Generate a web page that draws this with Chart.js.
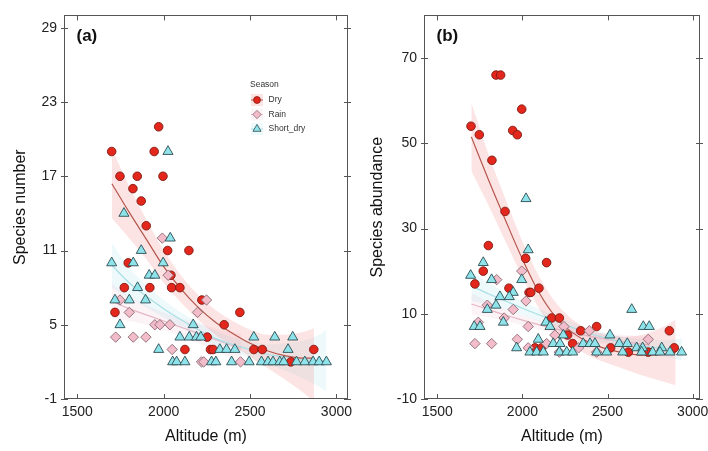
<!DOCTYPE html>
<html><head><meta charset="utf-8">
<script src="https://cdn.jsdelivr.net/npm/chart.js@4.4.1/dist/chart.umd.min.js"></script>
<style>
html,body{margin:0;padding:0;background:#fff;width:708px;height:451px;overflow:hidden;position:relative}
.wrap{position:absolute;top:0;height:451px;width:364px}
#wa{left:0;z-index:2}#wb{left:354px;z-index:1}
canvas{display:block}
</style></head><body>
<div class="wrap" id="wb"><canvas id="cb" width="364" height="451"></canvas></div>
<div class="wrap" id="wa"><canvas id="ca" width="364" height="451"></canvas></div>
<script>
// ---------- shared ----------
const xTicks = [1500, 2000, 2500, 3000];
const seasons = ['Dry', 'Rain', 'Short_dry'];

// ---------- panel (a): species number ----------
const yTicksA = [-1, 5, 11, 17, 23, 29];
const dryA = [[1699,19],[1971,21],[1945,19],[1747,17],[1847,17],[1996,17],[1822,16],[1870,15],[1899,13],[2023,11],[2146,11],[1795,10],[2042,9],[1772,8],[1920,8],[2046,8],[2094,8],[2221,7],[1718,6],[2441,6],[2350,5],[2252,4],[2123,3],[2271,3],[2286,3],[2522,3],[2571,3],[2869,3],[2736,2]];
const rainA = [[1992,12],[2026,9],[1747,7],[2248,7],[1801,6],[2196,6],[1949,5],[1978,5],[2036,5],[1722,4],[1824,4],[1897,4],[2049,3],[2219,2],[2232,2],[2445,2]];
const shortA = [[2025,19],[1770,14],[2038,12],[1870,11],[1699,10],[1824,10],[1997,10],[1916,9],[1949,9],[1849,8],[1718,7],[1801,7],[1895,7],[1747,5],[2171,5],[2094,4],[2148,4],[2190,4],[2215,4],[2522,4],[2643,4],[2747,4],[1971,3],[2325,3],[2364,3],[2412,3],[2720,3],[2052,2],[2075,2],[2123,2],[2277,2],[2302,2],[2393,2],[2495,2],[2566,2],[2604,2],[2633,2],[2672,2],[2695,2],[2769,2],[2817,2],[2865,2],[2900,2],[2942,2]];
const dryFitAltA = [1700,1800,1900,2000,2100,2200,2300,2400,2500,2600,2700,2800,2870];
const dryFitA    = [16.4,14.1,11.9,9.7,7.9,6.4,5.2,4.3,3.5,2.9,2.5,2.3,2.3];
const dryLoA     = [13.6,12.0,10.3,8.4,6.8,5.4,4.2,3.3,2.4,1.5,0.6,-0.4,-1.2];
const dryHiA     = [19.2,16.2,13.5,11.0,9.0,7.4,6.2,5.3,4.6,4.2,4.2,4.4,4.7];
const shortFitAltA = [1700,1800,1900,2000,2100,2200,2300,2400,2500,2600,2700,2800,2900,2942];
const shortFitA    = [9.8,8.4,7.3,6.3,5.4,4.6,3.9,3.4,3.0,2.6,2.4,2.2,2.1,2.1];
const shortLoA     = [8.0,7.2,6.4,5.6,4.8,4.0,3.3,2.8,2.3,1.8,1.3,0.7,0.0,-0.4];
const shortHiA     = [11.6,9.6,8.2,7.0,6.0,5.2,4.5,4.0,3.7,3.4,3.5,3.7,4.2,4.6];
const rainFitAltA = [1700,1800,1900,2000,2100,2200,2300,2400,2450];
const rainFitA    = [6.9,6.3,5.8,5.3,4.8,4.3,3.8,3.3,3.1];
const rainLoA     = [5.5,5.3,5.0,4.6,4.1,3.5,2.9,2.2,1.9];
const rainHiA     = [8.3,7.3,6.6,6.0,5.5,5.1,4.7,4.4,4.3];

// ---------- panel (b): species abundance ----------
const yTicksB = [-10, 10, 30, 50, 70];
const dryB = [[1698,54],[1747,52],[1845,66],[1872,66],[1996,58],[1943,53],[1970,52],[1821,46],[1898,34],[1800,26],[2019,23],[2142,22],[1770,20],[1721,17],[1921,16],[2097,16],[2039,15],[2049,15],[2172,9],[2217,9],[2265,5],[2295,3],[2342,6],[2436,7],[2074,2],[2113,2],[2518,2],[2622,1],[2739,1],[2863,6],[2892,2]];
const rainB = [[1996,20],[1849,18],[2021,13],[1794,12],[1946,11],[1741,8],[1893,9],[2034,7],[2244,7],[1721,3],[1819,3],[1970,4],[2142,3],[2034,2],[2191,5],[2393,6],[2739,4],[2217,1],[2436,1],[2330,2]];
const shortB = [[2021,37],[2034,25],[1770,22],[1696,19],[1819,18],[1996,18],[1946,15],[1868,14],[1923,14],[1845,12],[1794,11],[2642,11],[1717,7],[1751,7],[1888,8],[2138,8],[2162,7],[2710,7],[2745,7],[2240,5],[2514,5],[2093,4],[1966,2],[2181,3],[2221,3],[2357,3],[2397,3],[2426,3],[2569,3],[2616,3],[2671,2],[2706,2],[2818,2],[2044,1],[2084,1],[2123,1],[2217,1],[2260,1],[2295,1],[2436,1],[2495,1],[2589,1],[2700,1],[2765,1],[2808,1],[2867,1],[2935,1]];
const dryFitAltB = [1700,1800,1900,2000,2100,2200,2300,2400,2500,2600,2700,2800,2900];
const dryFitB    = [51.5,41.5,32.0,22.8,14.8,9.0,5.4,3.1,1.7,0.8,0.3,0.4,0.9];
const dryLoB     = [43.5,35.5,27.0,18.6,11.0,5.6,2.3,0.0,-1.6,-3.0,-4.4,-5.6,-6.8];
const dryHiB     = [59.5,47.5,37.0,27.0,18.6,12.4,8.5,6.2,5.0,4.6,5.0,6.4,8.6];
const shortFitAltB = [1700,1800,1900,2000,2100,2200,2300,2400,2500,2600,2700,2800,2900,2940];
const shortFitB    = [16.5,14.7,13.0,11.3,9.7,8.2,6.7,5.3,4.2,3.2,2.5,2.0,1.7,1.6];
const shortLoB     = [13.0,12.2,11.0,9.7,8.3,6.9,5.5,4.2,3.0,1.9,1.0,0.2,-0.6,-1.0];
const shortHiB     = [20.0,17.2,15.0,12.9,11.1,9.5,7.9,6.4,5.4,4.5,4.0,3.8,4.0,4.2];
const rainFitAltB = [1700,1800,1900,2000,2100,2200,2300,2400,2500,2600,2700,2750];
const rainFitB    = [12.3,11.0,9.7,8.5,7.4,6.4,5.5,4.7,4.0,3.4,2.9,2.7];
const rainLoB     = [9.8,9.2,8.3,7.3,6.3,5.3,4.4,3.5,2.6,1.8,1.0,0.6];
const rainHiB     = [14.8,12.8,11.1,9.7,8.5,7.5,6.6,5.9,5.4,5.0,4.8,4.8];

// ---------- styles ----------
const FONT = "'Liberation Sans', Arial, sans-serif";
const C = {
  dry:   {fill:'#e3271d', border:'#7e1a12', line:'#b5564c', band:'rgba(242,120,120,0.20)', style:'circle', r:4.3},
  rain:  {fill:'#f2bccb', border:'#8a6a72', line:'#e6b6c4', band:'rgba(235,160,185,0.13)', style:'rectRot', r:5.2},
  short: {fill:'#8fe3ea', border:'#2d4c51', line:'#a9dfe6', band:'rgba(140,215,228,0.15)', style:'triangle', r:5.8}
};

const toPts = arr => arr.map(p => ({x:p[0], y:p[1]}));
const zip = (xs, ys) => xs.map((x,i) => ({x, y:ys[i]}));

function bandSets(xs, lo, hi, color, idxLo){
  return [
    {data:zip(xs,lo), showLine:true, pointRadius:0, borderWidth:0, borderColor:'rgba(0,0,0,0)', fill:false, order:30, cubicInterpolationMode:'monotone'},
    {data:zip(xs,hi), showLine:true, pointRadius:0, borderWidth:0, borderColor:'rgba(0,0,0,0)', backgroundColor:color, fill:idxLo, order:30, cubicInterpolationMode:'monotone'}
  ];
}
function lineSet(xs, ys, color){
  return {data:zip(xs,ys), showLine:true, pointRadius:0, borderWidth:1.2, borderColor:color, fill:false, order:20, cubicInterpolationMode:'monotone'};
}
function pointSet(arr, s, order){
  return {data:toPts(arr), showLine:false, pointStyle:s.style, pointRadius:s.r, pointBackgroundColor:s.fill, pointBorderColor:s.border, pointBorderWidth:0.9, order};
}

const framePlugin = {
  id:'frame',
  afterDraw(chart, args, o){
    const ctx = chart.ctx;
    const {left,right,top,bottom} = chart.chartArea;
    const xs = chart.scales.x, ys = chart.scales.y;
    ctx.save();
    ctx.strokeStyle = '#555'; ctx.lineWidth = 1;
    ctx.strokeRect(Math.round(left)+0.5, Math.round(top)+0.5, Math.round(right-left)-1, Math.round(bottom-top)-1);
    ctx.beginPath();
    xs.ticks.forEach(t => {
      const px = Math.round(xs.getPixelForValue(t.value))+0.5;
      ctx.moveTo(px, bottom); ctx.lineTo(px, bottom-5);
      ctx.moveTo(px, top); ctx.lineTo(px, top+5);
    });
    ys.ticks.forEach(t => {
      const py = Math.round(ys.getPixelForValue(t.value))+0.5;
      ctx.moveTo(left-3, py); ctx.lineTo(left+4, py);
      ctx.moveTo(right-4, py); ctx.lineTo(right+3, py);
    });
    ctx.stroke();
    // panel label
    ctx.fillStyle = '#111';
    ctx.font = 'bold 17px ' + FONT;
    ctx.textBaseline = 'middle'; ctx.textAlign = 'left';
    ctx.fillText(o.label, left + 12.5, top + 21);
    // legend
    if (o.legend){
      const lx = o.legend.x, ly = o.legend.y;
      ctx.font = '8.5px ' + FONT;
      ctx.fillStyle = '#333';
      ctx.fillText('Season', lx, ly);
      const keys = [C.dry, C.rain, C.short];
      keys.forEach((s, i) => {
        const cy = ly + 15 + i * 14.5, cx = lx + 7;
        ctx.fillStyle = s.band;
        ctx.fillRect(cx - 6, cy - 6, 12, 12);
        ctx.strokeStyle = s.line; ctx.lineWidth = 1;
        ctx.beginPath(); ctx.moveTo(cx - 6, cy); ctx.lineTo(cx + 6, cy); ctx.stroke();
        ctx.fillStyle = s.fill; ctx.strokeStyle = s.border; ctx.lineWidth = 0.8;
        Chart.helpers.drawPoint(ctx, {pointStyle:s.style, radius:s.r*0.8, rotation:0, borderWidth:0.8}, cx, cy);
        ctx.fillStyle = '#333';
        ctx.fillText(seasons[i], lx + 18.5, cy);
      });
    }
    ctx.restore();
  }
};

function makeChart(id, p){
  const datasets = [
    ...bandSets(p.dryFitAlt, p.dryLo, p.dryHi, C.dry.band, 0),
    ...bandSets(p.shortFitAlt, p.shortLo, p.shortHi, C.short.band, 2),
    ...bandSets(p.rainFitAlt, p.rainLo, p.rainHi, C.rain.band, 4),
    lineSet(p.dryFitAlt, p.dryFit, C.dry.line),
    lineSet(p.shortFitAlt, p.shortFit, C.short.line),
    lineSet(p.rainFitAlt, p.rainFit, C.rain.line),
    pointSet(p.dry, C.dry, 3),
    pointSet(p.rain, C.rain, 2),
    pointSet(p.short, C.short, 1)
  ];
  return new Chart(document.getElementById(id), {
    type:'scatter',
    data:{datasets},
    plugins:[framePlugin],
    options:{
      responsive:false, animation:false, devicePixelRatio:1,
      layout:{padding:{top:11, right:p.rightPad, left:0, bottom:0}},
      plugins:{legend:{display:false}, tooltip:{enabled:false},
               frame:{label:p.label, legend:p.legend}},
      scales:{
        x:{type:'linear', min:p.xMin, max:p.xMax,
           afterBuildTicks:s => { s.ticks = xTicks.map(v => ({value:v})); },
           afterFit:s => { s.height = 52; },
           grid:{display:false, drawTicks:false}, border:{display:false},
           ticks:{padding:5, color:'#222', font:{size:14, family:FONT}, callback:v => String(v), maxRotation:0, autoSkip:false},
           title:{display:true, text:'Altitude (m)', color:'#111', font:{size:16, family:FONT}, padding:{top:0, bottom:5}}},
        y:{type:'linear', min:p.yMin, max:p.yMax,
           afterBuildTicks:s => { s.ticks = p.yTicks.map(v => ({value:v})); },
           afterFit:s => { s.width = p.yWidth; },
           grid:{display:false, drawTicks:false}, border:{display:false},
           ticks:{padding:7, color:'#222', font:{size:14, family:FONT}, callback:v => String(v), autoSkip:false},
           title:{display:true, text:p.yTitle, color:'#111', font:{size:16, family:FONT}, padding:{top:p.yTitlePad, bottom:0}}}
      }
    }
  });
}

Chart.defaults.font.family = FONT;

makeChart('ca', {
  label:'(a)', legend:{x:250, y:85},
  dry:dryA, rain:rainA, short:shortA,
  dryFitAlt:dryFitAltA, dryFit:dryFitA, dryLo:dryLoA, dryHi:dryHiA,
  shortFitAlt:shortFitAltA, shortFit:shortFitA, shortLo:shortLoA, shortHi:shortHiA,
  rainFitAlt:rainFitAltA, rainFit:rainFitA, rainLo:rainLoA, rainHi:rainHiA,
  xMin:1423, xMax:3067, yMin:-1, yMax:30, yTicks:yTicksA,
  yTitle:'Species number', yWidth:64, rightPad:16, yTitlePad:11
});
makeChart('cb', {
  label:'(b)', legend:null,
  dry:dryB, rain:rainB, short:shortB,
  dryFitAlt:dryFitAltB, dryFit:dryFitB, dryLo:dryLoB, dryHi:dryHiB,
  shortFitAlt:shortFitAltB, shortFit:shortFitB, shortLo:shortLoB, shortHi:shortHiB,
  rainFitAlt:rainFitAltB, rainFit:rainFitB, rainLo:rainLoB, rainHi:rainHiB,
  xMin:1422, xMax:3043, yMin:-10, yMax:80, yTicks:yTicksB,
  yTitle:'Species abundance', yWidth:70, rightPad:18, yTitlePad:14
});
</script>
</body></html>
